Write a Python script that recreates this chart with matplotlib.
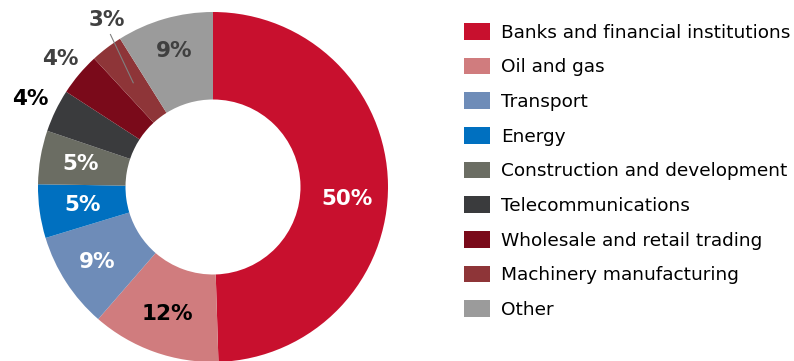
import numpy as np
import matplotlib
matplotlib.use("Agg")
import matplotlib.pyplot as plt
from matplotlib.patches import Patch

# Loan portfolio by sector
sectors = ['Banks and financial institutions', 'Oil and gas', 'Transport', 'Energy',
           'Construction and development', 'Telecommunications',
           'Wholesale and retail trading', 'Machinery manufacturing', 'Other']
shares = [50, 12, 9, 5, 5, 4, 4, 3, 9]
pct_labels = ['50%', '12%', '9%', '5%', '5%', '4%', '4%', '3%', '9%']

colors = ['#C8102E', '#D07C7E', '#6E8CB8', '#0070C0', '#6B6D63',
          '#3A3B3D', '#7A0A1A', '#8E3538', '#9B9B9B']
label_colors = ['white', 'black', 'white', 'white', 'white',
                'black', '#404040', '#404040', '#404040']
label_radius = [0.77, 0.77, 0.79, 0.75, 0.77, 1.16, 1.14, 1.13, 0.81]
label_shift = [-6, 0, 0, 0, 0, 0, 0, -5, 0]  # degrees

W, H = 794, 361
fig = plt.figure(figsize=(W / 100, H / 100), dpi=100)
# pie axes: centre at (213, 187) px, radius 175 px
ax = fig.add_axes([38 / W, (H - 187 - 175) / H, 350 / W, 350 / H])

wedges, _ = ax.pie(shares, colors=colors, startangle=90, counterclock=False,
                   radius=1.0, wedgeprops=dict(width=0.5, edgecolor='none'))
ax.set_xlim(-1, 1)
ax.set_ylim(-1, 1)
ax.set_aspect('equal')
ax.axis('off')

for w, lab, c, r, s in zip(wedges, pct_labels, label_colors, label_radius, label_shift):
    ang = np.deg2rad((w.theta1 + w.theta2) / 2 + s)
    ax.text(r * np.cos(ang), r * np.sin(ang), lab, ha='center', va='center',
            fontsize=15.5, fontweight='bold', color=c, clip_on=False)

# leader line for the small machinery slice
w = wedges[7]
mid = (w.theta1 + w.theta2) / 2
a0, a1 = np.deg2rad(mid), np.deg2rad(mid - 3.5)
ax.plot([0.75 * np.cos(a0), 1.05 * np.cos(a1)],
        [0.75 * np.sin(a0), 1.05 * np.sin(a1)],
        color='#808080', lw=0.8, clip_on=False)

handles = [Patch(facecolor=c, edgecolor='none') for c in colors]
fig.legend(handles, sectors, loc='upper left', bbox_to_anchor=(464 / W, 1 - 23 / H),
           frameon=False, fontsize=13.3, handlelength=1.4, handleheight=1.0,
           handletextpad=0.6, labelspacing=0.87, borderaxespad=0, borderpad=0)

fig.savefig('out.png', dpi=100)
